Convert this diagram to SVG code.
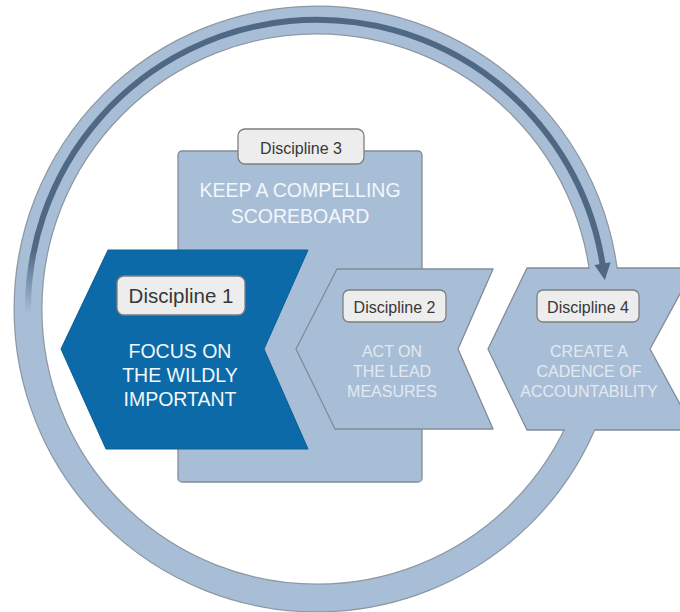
<svg xmlns="http://www.w3.org/2000/svg" width="680" height="612" viewBox="0 0 680 612">
<defs>
<style>
.ringline{fill:none;stroke:#8e98a3;stroke-width:29}
.ringfill{fill:none;stroke:#a8bed7;stroke-width:26.5}
.panel{fill:#a8bed7;stroke:#818c98;stroke-width:1.3;stroke-linejoin:round}
.focus{fill:#0b6aa7;stroke:#0a5e94;stroke-width:1;stroke-linejoin:round}
.tag{fill:#ededed;stroke:#7e7e7e;stroke-width:1.3}
.tagtext{font-family:"Liberation Sans",Arial,sans-serif;fill:#383838;text-anchor:middle}
.big{font-family:"Liberation Sans",Arial,sans-serif;font-size:19.5px;fill:#f3f7fb;text-anchor:middle}
.small{font-family:"Liberation Sans",Arial,sans-serif;font-size:16px;fill:#e3e9f1;text-anchor:middle}
</style>
<clipPath id="d4clip"><rect x="540" y="266" width="100" height="166"/></clipPath>
<linearGradient id="fade" gradientUnits="userSpaceOnUse" x1="20" y1="312" x2="36" y2="250">
<stop offset="0" stop-color="#4f6883" stop-opacity="0"/>
<stop offset="1" stop-color="#4f6883" stop-opacity="1"/>
</linearGradient>
</defs>
<rect width="680" height="612" fill="#ffffff"/>

<g id="connector-ring" class="connector">
<circle class="ringline" cx="317" cy="309" r="289"/>
<circle class="ringfill" cx="317" cy="309" r="289"/>
</g>

<g id="discipline3">
<rect class="panel" x="178" y="151" width="244" height="331" rx="4"/>
<rect class="tag" x="238" y="129" width="126" height="35" rx="7"/>
<text class="tagtext" x="301" y="154" font-size="16">Discipline 3</text>
<text class="big" x="300" y="197">KEEP A COMPELLING</text>
<text class="big" x="300" y="223">SCOREBOARD</text>
</g>

<g id="discipline1">
<polygon class="focus" points="108,250 308,250 264,349 308,449 106,449 61,349"/>
<rect class="tag" x="117" y="276" width="128" height="39" rx="7"/>
<text class="tagtext" x="181" y="303" font-size="20.5">Discipline 1</text>
<text class="big" x="180" y="358">FOCUS ON</text>
<text class="big" x="180" y="382">THE WILDLY</text>
<text class="big" x="180" y="406">IMPORTANT</text>
</g>

<g id="discipline2">
<polygon class="panel" points="337,269 493,269 458,349 493,429 335,429 296,349"/>
<rect class="tag" x="343" y="290" width="103" height="32" rx="6"/>
<text class="tagtext" x="394.5" y="313" font-size="16">Discipline 2</text>
<text class="small" x="392" y="357">ACT ON</text>
<text class="small" x="392" y="377">THE LEAD</text>
<text class="small" x="392" y="397">MEASURES</text>
</g>

<g id="discipline4">
<polygon class="panel" points="527,268 694,268 650,349 694,430 527,430 488,349"/>
<circle class="ringfill" cx="317" cy="309" r="289" clip-path="url(#d4clip)"/>
<rect class="tag" x="537" y="290" width="102" height="32" rx="6"/>
<text class="tagtext" x="588" y="313" font-size="16">Discipline 4</text>
<text class="small" x="589" y="357">CREATE A</text>
<text class="small" x="589" y="377">CADENCE OF</text>
<text class="small" x="589" y="397">ACCOUNTABILITY</text>
</g>

<g id="connector-cycle-arrow" class="connector">
<path d="M 28.2 319.1 A 289 289 0 0 1 602.6 264.5" fill="none" stroke="url(#fade)" stroke-width="6"/>
<polygon points="610.6,262.3 594.4,264.9 604.9,280" fill="#4f6883"/>
</g>
</svg>
